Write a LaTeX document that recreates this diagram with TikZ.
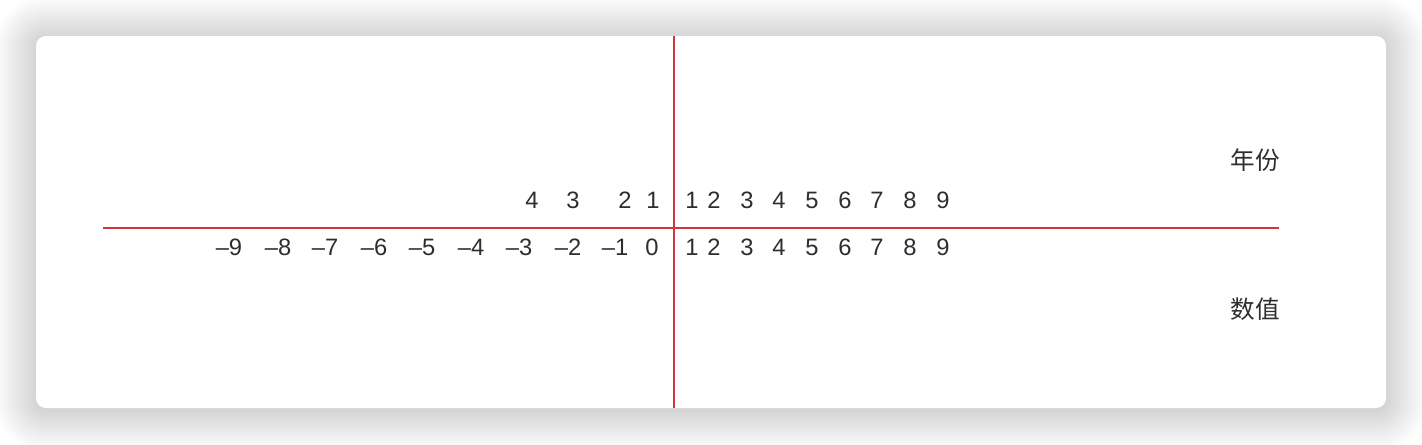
\documentclass[tikz,border=0pt]{standalone}
\usepackage{fontspec}
\setmainfont{Liberation Sans}
\newfontfamily\cjk{Noto Sans CJK SC}
\usetikzlibrary{positioning}
\definecolor{axisred}{HTML}{D0393B}
\definecolor{labelgray}{HTML}{2E2E2E}

\begin{document}
\begin{tikzpicture}[
			x = 0.02cm, y = -0.02cm,
			every node/.style = {font = \fontsize{13.5}{16}\selectfont, text = labelgray, inner sep = 0pt, anchor = base},
			axis/.style = {axisred, line width = 1.1pt},
			caption/.style = {font = \cjk\fontsize{14}{16}\selectfont, anchor = center}
		]
		\useasboundingbox (0,0) rectangle (1422,444);

		% Card with soft shadow
		\foreach \s in {1,...,42}
			\fill[black, opacity = 0.0055, rounded corners = {(10+\s)*0.57pt}] (36-\s,36-\s+2) rectangle (1386+\s,408+\s+2);
		\fill[white, rounded corners = 5.7pt] (36,36) rectangle (1386,408);

		% Axes
		\coordinate (xl) at (103,228);
		\coordinate (xr) at (1279,228);
		\coordinate (yt) at (674,36);
		\coordinate (yb) at (674,408);
		\draw[axis] (xl) -- (xr);
		\draw[axis] (yt) -- (yb);

		% Labels above the axis
		\foreach \x/\t in {692/1, 714/2, 747/3, 779/4, 812/5, 845/6, 877/7, 910/8, 943/9}
			\node (up\t) at (\x,208) {\t};
		\foreach \x/\t in {532/4, 573/3, 625/2, 653/1}
			\node (ul\t) at (\x,208) {\t};

		% Labels below the axis
		\foreach \x/\t in {692/1, 714/2, 747/3, 779/4, 812/5, 845/6, 877/7, 910/8, 943/9}
			\node (dp\t) at (\x,255) {\t};
		\foreach \x/\t in {229/9, 278/8, 325/7, 374/6, 422/5, 471/4, 519/3, 568/2, 615/1}
			\node (dn\t) at (\x,255) {–\t};
		\node (d0) at (652,255) {0};

		% Captions
		\node[caption] (year) at (1255,160) {年份};
		\node[caption] (value) at (1255,309) {数值};
\end{tikzpicture}
\end{document}
